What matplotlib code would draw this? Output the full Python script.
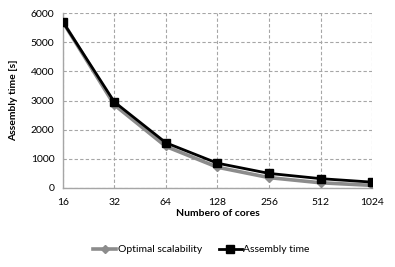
import matplotlib
matplotlib.use('Agg')
import matplotlib.pyplot as plt

# data
cores = ['16', '32', '64', '128', '256', '512', '1024']
optimal = [5700, 2850, 1425, 712, 356, 178, 89]
assembly = [5700, 2950, 1550, 850, 500, 320, 200]

plt.rcParams['font.family'] = ['Lato', 'DejaVu Sans']

fig = plt.figure(figsize=(3.95, 2.67), dpi=100)
ax = fig.add_axes([0.159, 0.296, 0.783, 0.655])

x = list(range(len(cores)))
ax.plot(x, optimal, color='#8c8c8c', lw=2.6, marker='D', ms=4.5, label='Optimal scalability', zorder=3)
ax.plot(x, assembly, color='black', lw=2.0, marker='s', ms=6, label='Assembly time', zorder=4)

ax.set_xlim(0, len(cores) - 1)
ax.set_ylim(0, 6000)
ax.set_xticks(x)
ax.set_xticklabels(cores)
ax.set_yticks(range(0, 6001, 1000))
ax.tick_params(length=0, labelsize=7.5)
ax.tick_params(axis='x', pad=7)
ax.tick_params(axis='y', pad=6)
ax.grid(True, color='#a6a6a6', ls=(0, (3, 2)), lw=0.8)
for s in ['top', 'right']:
    ax.spines[s].set_visible(False)
for s in ['left', 'bottom']:
    ax.spines[s].set_color('#a6a6a6')
    ax.spines[s].set_linewidth(1.0)

ax.set_xlabel('Numbero of cores', fontsize=7.5, fontweight='bold', labelpad=2)
ax.set_ylabel('Assembly time [s]', fontsize=7.5, fontweight='bold', labelpad=9)

fig.legend(loc='center', bbox_to_anchor=(0.51, 0.065), ncol=2, frameon=False,
           fontsize=7.5, handlelength=2.2, columnspacing=1.6, handletextpad=0.15)

fig.savefig('out.png', dpi=100)
